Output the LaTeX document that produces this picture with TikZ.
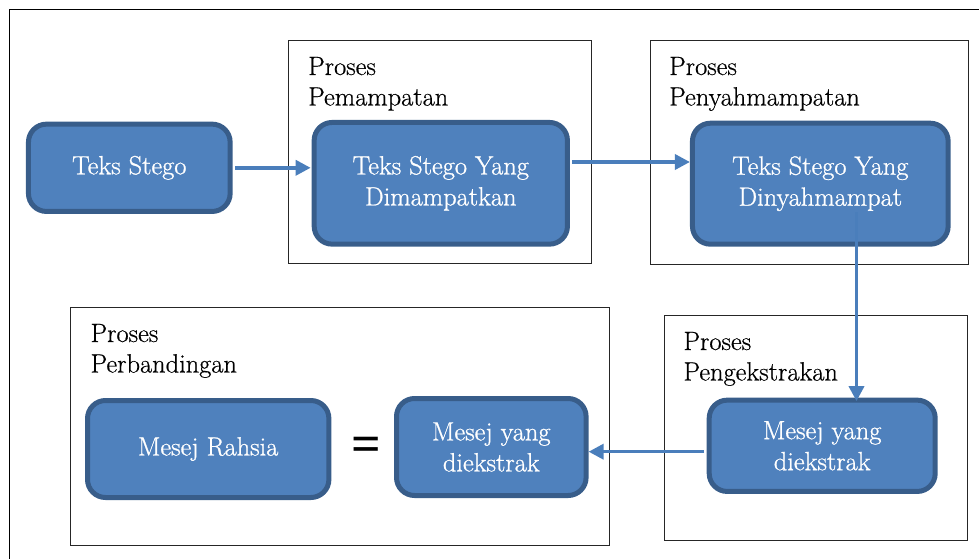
\documentclass[tikz,border=0pt]{standalone}
\usepackage{fontspec}
\newfontfamily\signfont{Liberation Serif}
\newfontfamily\titlefont{Latin Modern Roman}[FakeBold=0.5]
\newfontfamily\boxfont{Latin Modern Roman}[FakeBold=0.9]
\usetikzlibrary{arrows.meta}
\definecolor{boxfill}{HTML}{4F81BD}
\definecolor{boxline}{HTML}{385D8A}
\definecolor{flow}{HTML}{4A7EBB}

\begin{document}
\begin{tikzpicture}[x=1pt,y=-1pt,
  stage/.style={draw=boxline, line width=5pt, fill=boxfill, rounded corners=18pt,
    text=white, align=center, inner sep=0pt,
    font=\boxfont\fontsize{26.4}{31}\selectfont},
  procframe/.style={draw=black!85, line width=1.1pt, anchor=north west, inner sep=0pt},
  proclabel/.style={anchor=base west, align=left, inner sep=0pt,
    font=\titlefont\fontsize{26.4}{30.5}\selectfont},
  flowarrow/.style={draw=flow, line width=3.5pt, -{Triangle[length=15pt,width=15pt]}},
]
\useasboundingbox (0,0) rectangle (979,559);
\clip (0,0) rectangle (979,559);

% outer frame
\draw[line width=1.5pt] (9.5,9.5) rectangle (995,575);

% process frames
\node[procframe, minimum width=303.5pt, minimum height=222.5pt] (fPem) at (287.5,40) {};
\node[procframe, minimum width=318.5pt, minimum height=223.5pt] (fNyah) at (649.5,40) {};
\node[procframe, minimum width=303.5pt, minimum height=224.5pt] (fEks) at (663.5,315) {};
\node[procframe, minimum width=538.5pt, minimum height=237.5pt] (fBand) at (70,307) {};

% frame titles (anchored at the baseline of their second line)
\node[proclabel] (lPem) at (308,105.5) {Proses\\Pemampatan};
\node[proclabel] (lNyah) at (669,105.5) {Proses\\Penyahmampatan};
\node[proclabel] (lEks) at (683.3,380.5) {Proses\\Pengekstrakan};
\node[proclabel] (lBand) at (90.4,372.5) {Proses\\Perbandingan};

% stages
\node[stage, minimum width=201.7pt, minimum height=87.3pt] (tstego) at (129.3,167.8) {\raisebox{3.5pt}{Teks Stego}};
\node[stage, minimum width=253.3pt, minimum height=121.7pt] (dimampat) at (440.8,183.3) {Teks Stego Yang\\Dimampatkan};
\node[stage, minimum width=255.7pt, minimum height=121pt] (dinyah) at (820.3,183.7) {Teks Stego Yang\\Dinyahmampat};
\node[stage, minimum width=226pt, minimum height=91.3pt] (ekstrak) at (822.2,445.8) {Mesej yang\\diekstrak};
\node[stage, minimum width=189.6pt, minimum height=97pt] (ekstrakB) at (491.3,447) {Mesej yang\\diekstrak};
\node[stage, minimum width=241.4pt, minimum height=97pt] (rahsia) at (208.2,449) {Mesej Rahsia};

% equality sign
\node[inner sep=0pt, font=\signfont\bfseries\fontsize{52}{52}\selectfont] (eq) at (366,449) {=};

% connectors
\draw[flowarrow, shorten <=2.5pt, shorten >=1pt] (tstego.east) -- (tstego.east -| dimampat.west);
\coordinate (a2s) at ([yshift=21.3pt]dimampat.east);
\draw[flowarrow, shorten <=2.5pt] (a2s) -- (a2s -| dinyah.west);
\coordinate (drop) at (856.5,212);
\draw[flowarrow, shorten >=-3.5pt] (drop) -- (drop |- ekstrak.north);
\coordinate (a4s) at ([yshift=-5.9pt]ekstrak.west);
\draw[flowarrow, shorten <=2.5pt] (a4s) -- (a4s -| ekstrakB.east);
\end{tikzpicture}
\end{document}
